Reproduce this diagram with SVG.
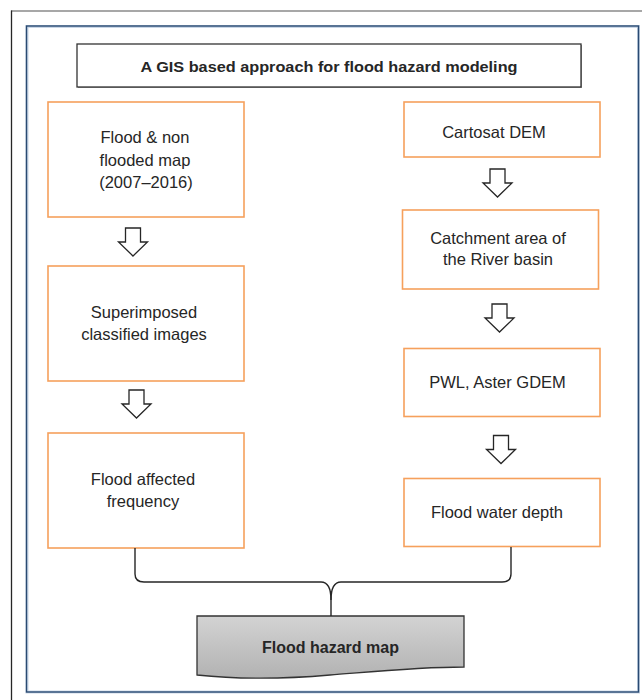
<svg xmlns="http://www.w3.org/2000/svg" width="642" height="700" viewBox="0 0 642 700">
<defs>
<linearGradient id="gHaz" x1="0" y1="0" x2="0" y2="1">
<stop offset="0" stop-color="#d3d3d3"/>
<stop offset="1" stop-color="#b2b2b2"/>
</linearGradient>
<path id="arrowShape" d="M-7.5,0 H7.5 V14 H14.5 L0,28 L-14.5,14 H-7.5 Z"/>
</defs>
<style>
.box{fill:#ffffff;stroke:#f6a05c;stroke-width:1.6}
.txt{font-family:"Liberation Sans",Arial,sans-serif;font-size:16.5px;fill:#262626;text-anchor:middle}
.bold{font-family:"Liberation Sans",Arial,sans-serif;font-weight:bold;fill:#262626;text-anchor:middle}
.arr{fill:#ffffff;stroke:#262626;stroke-width:1.3;stroke-linejoin:miter}
.conn{fill:none;stroke:#262626;stroke-width:1.4}
</style>
<rect width="642" height="700" fill="#ffffff"/>
<g id="frame">
<line x1="11" y1="11" x2="642" y2="11" stroke="#8a8a8a" stroke-width="1.5"/>
<line x1="11.5" y1="10.5" x2="11.5" y2="700" stroke="#262626" stroke-width="1.3"/>
<rect x="27" y="26.5" width="611.5" height="665.5" fill="none" stroke="#c9d6e6" stroke-width="3"/>
<rect x="26.5" y="26" width="612" height="666" fill="none" stroke="#2a4a72" stroke-width="1.4"/>
</g>
<g id="title">
<rect x="78" y="45" width="504" height="43" fill="#9a9a9a"/>
<rect x="77" y="44" width="504" height="43" fill="#ffffff" stroke="#333333" stroke-width="1.3"/>
<text class="bold" x="329" y="71.5" font-size="15.5" textLength="377" lengthAdjust="spacingAndGlyphs">A GIS based approach for flood hazard modeling</text>
</g>
<g id="n_flood_map">
<rect class="box" x="48" y="102" width="196" height="115"/>
<text class="txt" x="145" y="143">Flood &amp; non</text>
<text class="txt" x="145" y="165.5">flooded map</text>
<text class="txt" x="146" y="187.5">(2007–2016)</text>
</g>
<g id="n_superimposed">
<rect class="box" x="48" y="266" width="196" height="115"/>
<text class="txt" x="144" y="318">Superimposed</text>
<text class="txt" x="144" y="340">classified images</text>
</g>
<g id="n_frequency">
<rect class="box" x="48" y="433" width="196" height="115"/>
<text class="txt" x="143" y="485">Flood affected</text>
<text class="txt" x="143" y="507">frequency</text>
</g>
<g id="n_cartosat">
<rect class="box" x="404" y="102" width="196" height="55"/>
<text class="txt" x="494" y="137.5">Cartosat DEM</text>
</g>
<g id="n_catchment">
<rect class="box" x="402.5" y="210" width="196" height="79"/>
<text class="txt" x="498" y="244">Catchment area of</text>
<text class="txt" x="498" y="265">the River basin</text>
</g>
<g id="n_pwl">
<rect class="box" x="404" y="348.5" width="196" height="68"/>
<text class="txt" x="497.5" y="387.5">PWL, Aster GDEM</text>
</g>
<g id="n_depth">
<rect class="box" x="404" y="478.5" width="196" height="68"/>
<text class="txt" x="497" y="517.5">Flood water depth</text>
</g>
<g id="n_hazard">
<path d="M197,616 L464,616 L464,667 C420,667 380,671 330,675 C290,678.5 240,679.5 197,675 Z" fill="url(#gHaz)" stroke="#333333" stroke-width="1.3"/>
<text class="bold" x="330.5" y="653" font-size="16">Flood hazard map</text>
</g>
<g id="connectors">
<use href="#arrowShape" class="arr" transform="translate(133,228)"/>
<use href="#arrowShape" class="arr" transform="translate(136.5,390)"/>
<use href="#arrowShape" class="arr" transform="translate(497.5,169)"/>
<use href="#arrowShape" class="arr" transform="translate(499.5,304)"/>
<use href="#arrowShape" class="arr" transform="translate(501,435.5)"/>
<path class="conn" d="M135,548 L135,574 Q135,582 144,582 L321,582 Q331,582 331,600 L331,616"/>
<path class="conn" d="M511,547 L511,574 Q511,582 502,582 L341,582 Q331,582 331,600"/>
</g>
</svg>
